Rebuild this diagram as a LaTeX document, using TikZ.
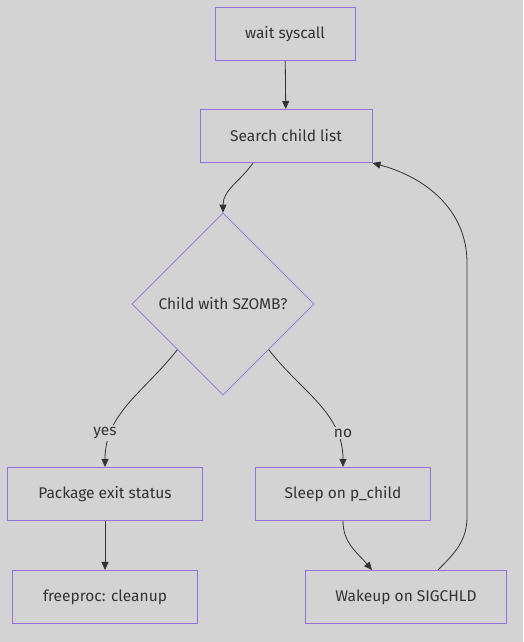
\documentclass[tikz,border=0pt]{standalone}
\usepackage{fontspec}
\setmainfont{Fira Sans}
\usepackage{xcolor}
\usetikzlibrary{arrows.meta,positioning,shapes.geometric}
\definecolor{bggray}{HTML}{D3D3D3}
\definecolor{boxline}{HTML}{9370DB}
\definecolor{inkgray}{HTML}{333333}
\begin{document}
\begin{tikzpicture}[x=1pt,y=1pt,
  box/.style={draw=boxline,line width=1pt,fill=bggray,text=inkgray,minimum height=53pt,inner sep=0pt,font=\fontsize{15.5}{18}\selectfont},
  dec/.style={diamond,draw=boxline,line width=0.7pt,fill=bggray,text=inkgray,minimum width=182pt,minimum height=182pt,inner sep=0pt,font=\fontsize{15.5}{18}\selectfont},
  arr/.style={draw=inkgray,line width=0.8pt,-{Triangle[length=8pt,width=7pt]}},
  lbl/.style={fill=bggray,text=inkgray,inner sep=2pt,font=\fontsize{15.5}{18}\selectfont}]
\fill[bggray] (0,0) rectangle (523,642);
\useasboundingbox (0,0) rectangle (523,642);
% ----- main column -----
\node[box,minimum width=140pt] (wait) at (285,608) {wait syscall};
\node[box,minimum width=172pt] (srch) at (286,506) {Search child list};
\node[dec] (dia) at (223,338) {Child with SZOMB?};
% ----- yes branch -----
\node[box,minimum width=195pt] (pkg) at (105,148) {Package exit status};
\node[box,minimum width=185pt] (free) at (105,45) {freeproc: cleanup};
% ----- no branch -----
\node[box,minimum width=175pt] (sleep) at (343,148) {Sleep on p\_child};
\node[box,minimum width=201pt] (wake) at (406,45) {Wakeup on SIGCHLD};
\coordinate (lpB) at (467,125);
\coordinate (lpT) at (467,379);
% ----- connectors -----
\draw[arr] (wait) -- (srch);
\draw[arr] ([xshift=-33pt]srch.south) to[out=-125,in=90] (dia.north);
\draw[arr] (dia.south west) to[out=-128,in=90] (pkg.north);
\draw[arr] (dia.south east) to[out=-52,in=90] (sleep.north);
\draw[arr] (pkg) -- (free);
\draw[arr] (sleep.south) to[out=-90,in=130] ([xshift=-34pt]wake.north);
\draw[arr] ([xshift=32pt]wake.north) to[out=45,in=-90] (lpB) -- (lpT) to[out=90,in=-15] (srch.south east);
\node[lbl] (yes) at (105,209) {yes};
\node[lbl] (no) at (343,209) {no};
\end{tikzpicture}
\end{document}
